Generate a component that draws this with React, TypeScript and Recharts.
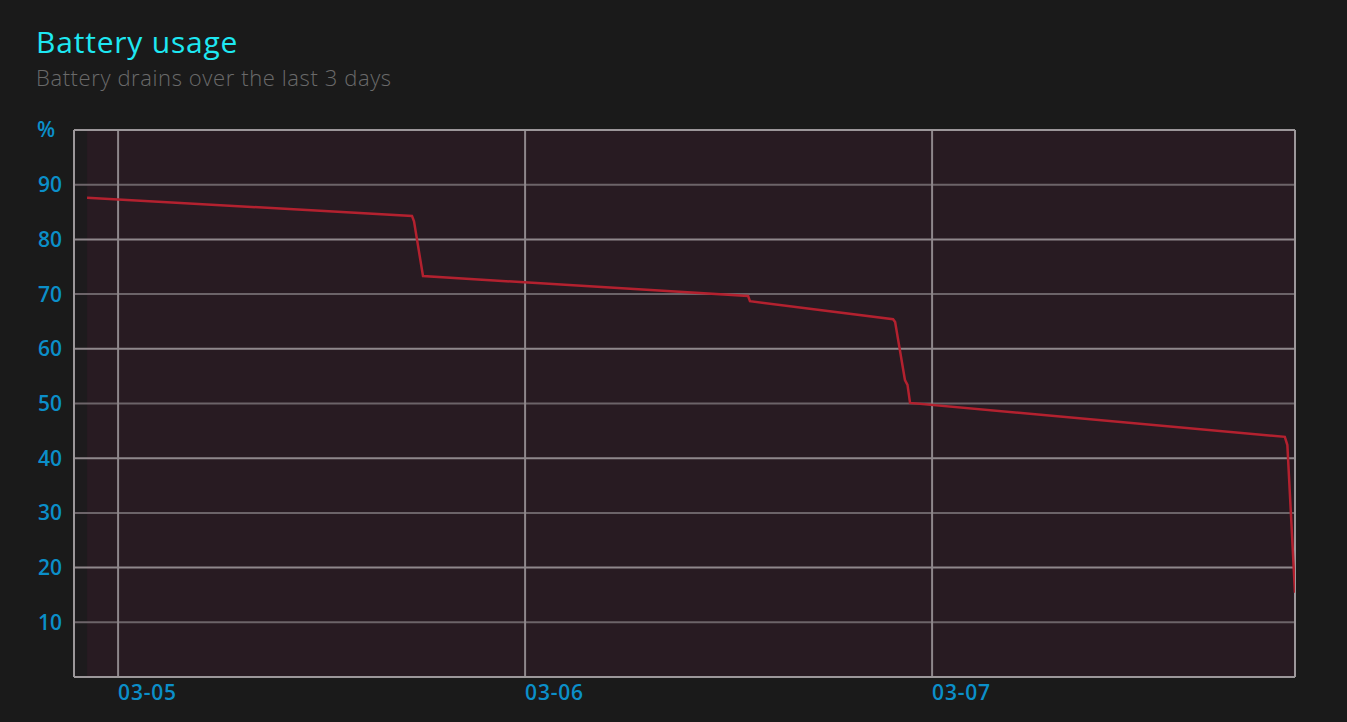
import { LineChart, Line, XAxis, YAxis, CartesianGrid, ReferenceArea, ReferenceLine } from 'recharts';

// hours since 03-05 00:00
const hours = [-1.83, 17.33, 17.45, 17.98, 37.15, 37.26, 45.7, 45.82, 46.4, 46.55, 46.7, 68.8, 68.95, 69.4];
const battery = [87.6, 84.3, 83.3, 73.3, 69.65, 68.7, 65.4, 64.9, 54.3, 53.4, 50.1, 43.9, 42.4, 15.4];

const dayTicks = [0, 24, 48];
const dayLabels = ['03-05', '03-06', '03-07'];
const pctTicks = [10, 20, 30, 40, 50, 60, 70, 80, 90, 100];

const xStart = -2.6;
const xEnd = 69.4;

const data = hours.map((h, i) => ({ h, v: battery[i] }));

const tickStyle = { fill: '#0b8fc9', fontSize: 21, fontWeight: 600, fontFamily: '"Open Sans", "Noto Sans", sans-serif' };

const PctTick = (props: any) => {
  const { x, y, payload } = props;
  const isTop = payload.value === 100;
  return (
    <text
      x={isTop ? 37 : x - 4}
      y={y}
      dy="0.355em"
      textAnchor={isTop ? 'start' : 'end'}
      {...tickStyle}
    >
      {isTop ? '%' : payload.value}
    </text>
  );
};

export default function App() {
  return (
    <div style={{ position: 'absolute', left: 0, top: 0, width: 1347, height: 722, background: '#1a1a1a', fontFamily: '"Open Sans", "Noto Sans", sans-serif' }}>
      <div style={{ position: 'absolute', left: 36, top: 21, fontSize: 30, color: '#1ee8f2', letterSpacing: 0.8 }}>Battery usage</div>
      <div style={{ position: 'absolute', left: 36, top: 62, fontSize: 22, fontWeight: 300, color: '#6a6a6a', letterSpacing: 0.6 }}>Battery drains over the last 3 days</div>
      <div style={{ position: 'absolute', left: 0, top: 0 }}>
        <LineChart width={1347} height={722} data={data} margin={{ top: 130, right: 52, left: 14, bottom: 0 }}>
          <CartesianGrid horizontal={false} vertical={true} stroke="#8e878b" strokeWidth={2} fill="#1d1b1d" />
          <ReferenceArea x1={hours[0]} x2={xEnd} y1={0} y2={100} fill="#281b22" fillOpacity={1} stroke="none" ifOverflow="hidden" />
          {pctTicks.slice(0, -1).map((t) => (
            <ReferenceLine key={t} y={t} stroke={t % 20 === 0 ? '#8f888c' : '#6c6469'} strokeWidth={2} />
          ))}
          {dayTicks.map((t) => (
            <ReferenceLine key={'d' + t} x={t} stroke="#8e878b" strokeWidth={2} />
          ))}
          <ReferenceLine y={100} stroke="#9c979a" strokeWidth={2} />
          <ReferenceLine x={xEnd} stroke="#9c979a" strokeWidth={2} />
          <XAxis
            dataKey="h"
            type="number"
            domain={[xStart, xEnd]}
            ticks={dayTicks}
            tickFormatter={(v) => dayLabels[dayTicks.indexOf(v)]}
            tick={{ ...tickStyle, textAnchor: 'start', letterSpacing: 0.8 }}
            tickLine={false}
            axisLine={{ stroke: '#9c979a', strokeWidth: 2 }}
            height={45}
            allowDataOverflow
          />
          <YAxis
            type="number"
            domain={[0, 100]}
            ticks={pctTicks}
            tick={<PctTick />}
            tickLine={false}
            axisLine={{ stroke: '#9c979a', strokeWidth: 2 }}
            width={60}
            interval={0}
          />
          <Line type="linear" dataKey="v" stroke="#b3212f" strokeWidth={2.5} dot={false} isAnimationActive={false} />
        </LineChart>
      </div>
    </div>
  );
}
